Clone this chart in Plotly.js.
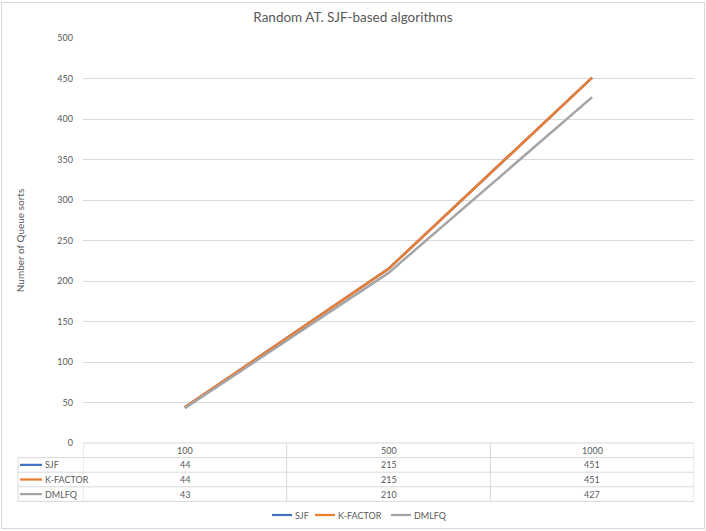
<!DOCTYPE html>
<html>
<head>
<meta charset="utf-8">
<script src="https://cdn.plot.ly/plotly-3.0.1.min.js"></script>
<style>
  html, body { margin: 0; padding: 0; background: #ffffff; }
  #wrap { position: relative; width: 706px; height: 531px; }
  #chart { position: absolute; left: 0; top: 0; width: 706px; height: 531px; }
  #frame { position: absolute; left: 1px; top: 2px; width: 702px; height: 525px;
           border: 1px solid #d9d9d9; pointer-events: none; }
</style>
</head>
<body>
<div id="wrap"><div id="chart"></div><div id="frame"></div></div>
<script>
// ---- data ----
const categories = ['100', '500', '1000'];
const seriesNames = ['SJF', 'K-FACTOR', 'DMLFQ'];
const sjf = [44, 215, 451];
const kFactor = [44, 215, 451];
const dmlfq = [43, 210, 427];
const yTicks = [0, 50, 100, 150, 200, 250, 300, 350, 400, 450, 500];

const seriesValues = [sjf, kFactor, dmlfq];
const colors = ['#4472C4', '#ED7D31', '#A5A5A5'];

// ---- layout geometry (pixels) ----
const W = 706, H = 531;
const M = { l: 83, r: 12, t: 38, b: 88 };
const PW = W - M.l - M.r, PH = H - M.t - M.b;
const px2x = px => (px - M.l) / PW;          // paper x
const py2y = py => (H - M.b - py) / PH;      // paper y

const textColor = '#595959';
const gridColor = '#D9D9D9';
const font = 'Lato, "Open Sans", sans-serif';

const idx = categories.map((c, i) => i);

const traces = seriesValues.map((vals, s) => ({
  type: 'scatter',
  mode: 'lines',
  name: seriesNames[s],
  x: idx,
  y: vals,
  line: { color: colors[s], width: 2.5 },
  hoverinfo: 'skip',
  showlegend: false
}));

// ---- data table (shapes + annotations) ----
const tableTop = 443, rowH = 14.6;
const rowEdges = [0, 1, 2, 3, 4].map(k => tableTop + k * rowH);
const tableLeft = 18;
const shapes = [];
const annotations = [];
const line = { color: gridColor, width: 1 };

rowEdges.forEach((py, k) => {
  shapes.push({ type: 'line', xref: 'paper', yref: 'paper',
    x0: k === 0 ? 0 : px2x(tableLeft), x1: 1, y0: py2y(py), y1: py2y(py), line });
});
for (let b = 0; b <= categories.length; b++) {
  shapes.push({ type: 'line', xref: 'x', yref: 'paper',
    x0: b - 0.5, x1: b - 0.5, y0: py2y(rowEdges[0]), y1: py2y(rowEdges[4]), line });
}
shapes.push({ type: 'line', xref: 'paper', yref: 'paper',
  x0: px2x(tableLeft), x1: px2x(tableLeft), y0: py2y(rowEdges[1]), y1: py2y(rowEdges[4]), line });

categories.forEach((c, i) => {
  annotations.push({ xref: 'x', yref: 'paper', x: i, y: py2y((rowEdges[0] + rowEdges[1]) / 2),
    text: c, showarrow: false, xanchor: 'center', yanchor: 'middle',
    font: { family: font, size: 9, color: textColor } });
});
seriesValues.forEach((vals, s) => {
  const cy = py2y((rowEdges[s + 1] + rowEdges[s + 2]) / 2);
  shapes.push({ type: 'line', xref: 'paper', yref: 'paper',
    x0: px2x(20), x1: px2x(42), y0: cy, y1: cy, line: { color: colors[s], width: 2.25 } });
  annotations.push({ xref: 'paper', yref: 'paper', x: px2x(42.5), y: cy, text: seriesNames[s],
    showarrow: false, xanchor: 'left', yanchor: 'middle',
    font: { family: font, size: 9, color: textColor } });
  vals.forEach((v, i) => {
    annotations.push({ xref: 'x', yref: 'paper', x: i, y: cy, text: String(v),
      showarrow: false, xanchor: 'center', yanchor: 'middle',
      font: { family: font, size: 9, color: textColor } });
  });
});

// ---- bottom legend (Excel style, short keys) ----
const legendY = py2y(515);
const legendKeyX = [272, 315, 391];
seriesNames.forEach((name, s) => {
  const x0 = legendKeyX[s];
  shapes.push({ type: 'line', xref: 'paper', yref: 'paper',
    x0: px2x(x0), x1: px2x(x0 + 20), y0: legendY, y1: legendY,
    line: { color: colors[s], width: 2.25 } });
  annotations.push({ xref: 'paper', yref: 'paper', x: px2x(x0 + 21), y: legendY, text: name,
    showarrow: false, xanchor: 'left', yanchor: 'middle',
    font: { family: font, size: 9, color: textColor } });
});

const layout = {
  width: W, height: H,
  margin: M,
  paper_bgcolor: '#ffffff',
  plot_bgcolor: '#ffffff',
  font: { family: font, color: textColor },
  title: {
    text: 'Random AT. SJF-based algorithms',
    font: { family: font, size: 13.5, color: textColor },
    x: 0.5, xref: 'container', xanchor: 'center',
    y: (H - 17) / H, yref: 'container', yanchor: 'middle'
  },
  xaxis: {
    type: 'category',
    range: [-0.5, categories.length - 0.5],
    showticklabels: false,
    showgrid: false,
    zeroline: false,
    showline: false,
    ticks: ''
  },
  yaxis: {
    range: [0, 500],
    tickvals: yTicks,
    ticktext: yTicks.map(String),
    tickfont: { family: font, size: 9, color: textColor },
    showgrid: true,
    gridcolor: gridColor,
    gridwidth: 1,
    zeroline: false,
    showline: false,
    ticks: '',
    ticklabelstandoff: 9,
    title: {
      text: 'Number of Queue sorts',
      font: { family: font, size: 10, color: textColor },
      standoff: 30
    },
    automargin: false
  },
  showlegend: false,
  shapes,
  annotations
};

Plotly.newPlot('chart', traces, layout, { displayModeBar: false, staticPlot: true });
</script>
</body>
</html>
